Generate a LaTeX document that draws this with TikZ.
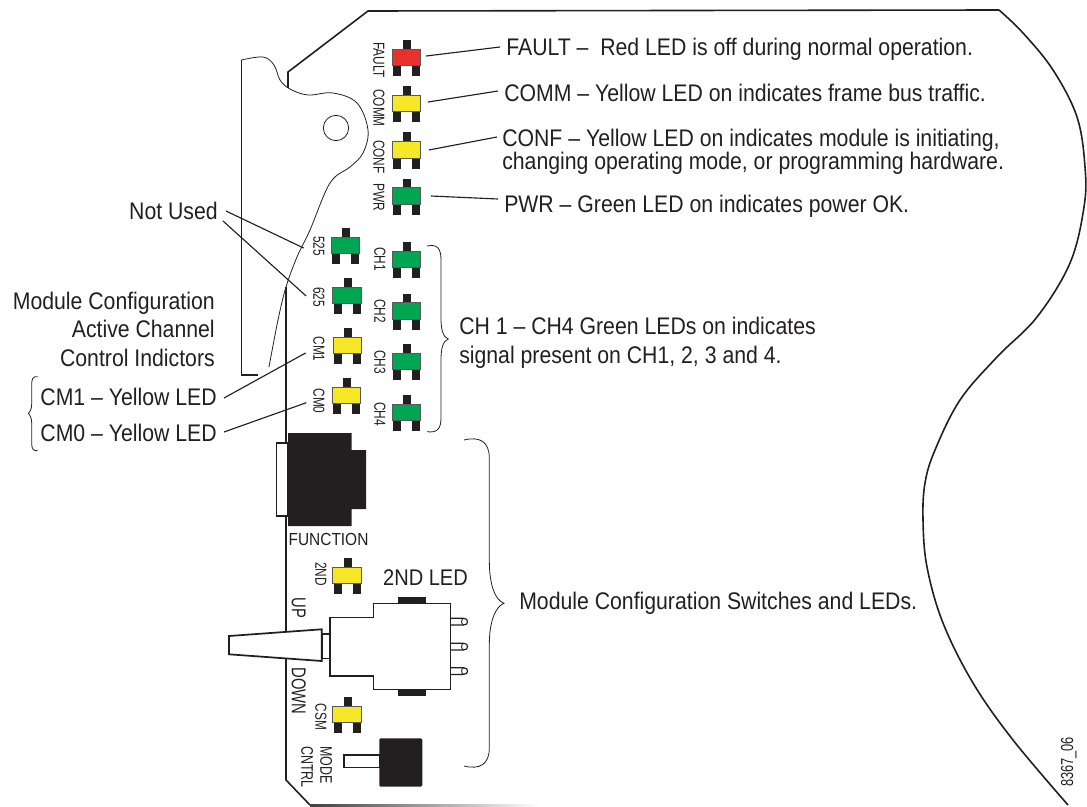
\documentclass[tikz,border=0pt]{standalone}
\usepackage{fontspec}
\setmainfont[FakeStretch=.885]{Liberation Sans}
\newfontfamily\ledfont[FakeStretch=.74]{Liberation Sans}

\definecolor{inkblack}{HTML}{231F20}
\definecolor{ledred}{HTML}{E8312A}
\definecolor{ledyellow}{HTML}{F7E827}
\definecolor{ledgreen}{HTML}{00A651}

\tikzset{
    ledbody/.style={draw=black!65,line width=.8pt,minimum width=21.5pt,minimum height=12.5pt,inner sep=0pt},
    ledlabel/.style={rotate=-90,inner sep=0pt,text=inkblack,text height=8.6pt,text depth=0pt,font=\ledfont\fontsize{12pt}{12pt}\selectfont},
    biglabel/.style={ledlabel,text height=10.7pt,font=\ledfont\fontsize{15pt}{15pt}\selectfont},
    note/.style={inner sep=0pt,text=inkblack,text height=12.9pt,text depth=0pt,font=\fontsize{18pt}{18pt}\selectfont},
    leader/.style={draw=inkblack,line width=.85pt},
    curlybrace/.style={draw=inkblack,line width=.6pt},
    edgeline/.style={draw=inkblack,line width=1.2pt},
    leverline/.style={draw=inkblack,line width=.6pt},
    partline/.style={draw=inkblack,line width=1.1pt,fill=white},
    blackpart/.style={fill=inkblack},
}

\begin{document}
\begin{tikzpicture}[x=.75pt,y=-.75pt]
    \useasboundingbox (0,0) rectangle (1087,806);

    % lever
    \draw[leverline,line width=.8pt] (258,375) -- (241.5,375) -- (241.5,60);
    \draw[leverline] plot[smooth,tension=.6] coordinates {
        (241.5,60) (263,57) (274,65) (280,80) (290,89) (308,95) (333,93) (357,103)
        (368,130) (363,153) (350,167) (330,183) (310,230) (297,257) (286,287) (278,320) (269,367)};
    \node[draw=inkblack,line width=.6pt,circle,minimum size=19pt,inner sep=0pt] (pivot) at (336,128) {};

    % board
    \draw[edgeline] (288,88) -- (288,72) -- (368,11) -- (999,10);
    \draw[edgeline] plot[smooth,tension=.6] coordinates {
        (999,10) (1023,33) (1053,70) (1077,117) (1085,167) (1084,207) (1070,263) (1037,317)
        (997,357) (960,400) (935,450) (925,483) (923,520) (927,567) (943,623) (973,683) (1013,740) (1068,805)};
    \draw[edgeline] (286,287) -- (286,780) -- (310,805);
    \shade[left color=black!75,right color=white] (310,804.5) rectangle (540,806);

    % LEDs
    \foreach \name/\x/\y/\col/\txt/\lx/\ly in {
        fault/406.5/57.5/ledred/FAULT/379/60,
        comm/406.5/103.5/ledyellow/COMM/379/108,
        conf/406.5/150/ledyellow/CONF/379/157,
        pwr/406.5/196/ledgreen/PWR/379/197,
        ledfive/345.5/245.5/ledgreen/525/319/246,
        ledsix/347/295.5/ledgreen/625/319/297,
        cmone/347.5/345.5/ledyellow/CM1/319/349,
        cmzero/346.5/395.5/ledyellow/CM0/319/401,
        chone/406.5/259.5/ledgreen/CH1/380/259,
        chtwo/406.5/311/ledgreen/CH2/380/311,
        chthree/406.5/361.5/ledgreen/CH3/380/362,
        chfour/406.5/412.5/ledgreen/CH4/380/414,
        second/347/575.5/ledyellow/2ND/321/574,
        csm/347/714.5/ledyellow/CSM/321/717%
    } {
        \fill[blackpart] (\x-3.5,\y-17.5) rectangle (\x+4.5,\y-8);
        \fill[blackpart] (\x-13.5,\y+8) rectangle (\x-5.5,\y+18.5);
        \fill[blackpart] (\x+5.5,\y+8) rectangle (\x+13.5,\y+18.5);
        \node[ledbody,fill=\col] (\name) at (\x,\y) {};
        \node[ledlabel] (\name lbl) at (\lx,\ly) {\txt};
    }

    % function connector
    \draw[partline] (276.7,443) rectangle (288,516);
    \fill[blackpart] (288,433) -- (351.7,433) -- (351.7,450) -- (366,450) -- (366,509)
        -- (351.7,509) -- (351.7,526) -- (288,526) -- cycle;
    \node[note,text height=9.4pt,font=\fontsize{13.1pt}{13.1pt}\selectfont] (functext) at (328.5,539) {FUNCTION};

    % toggle switch
    \fill[blackpart] (398.3,596.7) rectangle (426,603);
    \fill[blackpart] (398.3,690) rectangle (426,696);
    \foreach \y in {618.3,643.3,667.7} {
        \draw[partline,line width=.9pt] (450.7,\y) -- (463.5,\y) .. controls (466.5,\y) and (467.5,\y+1.5) .. (467.5,\y+3.35)
            .. controls (467.5,\y+5.2) and (466.5,\y+6.7) .. (463.5,\y+6.7) -- (450.7,\y+6.7);
        \draw[inkblack,line width=.7pt] (463.5,\y) .. controls (461,\y+1) and (461,\y+5.7) .. (463.5,\y+6.7);
    }
    \draw[partline] (322.3,634) rectangle (330,658.7);
    \draw[partline] (373.3,603.3) -- (450.7,603.3) -- (450.7,689.3) -- (373.3,689.3) -- (373.3,676)
        -- (330,676) -- (330,617.7) -- (373.3,617.7) -- cycle;
    \draw[partline,line width=1.3pt] (229,636) -- (321.7,629.3) -- (321.7,661) -- (229,654.3) -- cycle;
    \node[biglabel] (uplbl) at (299,608) {UP};
    \node[biglabel] (downlbl) at (299,691) {DOWN};

    % mode button
    \draw[partline,line width=.9pt] (344,755) rectangle (379.3,767.3);
    \fill[blackpart,rounded corners=1pt] (379.3,738.3) rectangle (422.3,786.7);
    \node[ledlabel,font=\ledfont\fontsize{12.6pt}{12.6pt}\selectfont] (modelbl) at (326,765) {MODE};
    \node[ledlabel,font=\ledfont\fontsize{12.6pt}{12.6pt}\selectfont] (cntrllbl) at (307,767) {CNTRL};

    % braces
    \draw[curlybrace] (427,246) .. controls (437,244) and (441,248) .. (441,260) -- (441,318)
        .. controls (441,330) and (443,337) .. (448.3,339)
        .. controls (443,341) and (441,348) .. (441,360) -- (441,418)
        .. controls (441,429) and (437,433) .. (427,431.7);
    \draw[curlybrace] (464,440) .. controls (480,436) and (489.3,442) .. (489.3,458) -- (489.3,560)
        .. controls (489.3,585) and (495,600) .. (504,603.3)
        .. controls (495,607) and (489.3,622) .. (489.3,645) -- (489.3,748)
        .. controls (489.3,764) and (480,770) .. (464,766);
    \draw[curlybrace] (37.7,376.7) .. controls (33,376) and (31.7,379) .. (31.7,384) -- (31.7,404)
        .. controls (31.7,409) and (30,412) .. (28.3,413.3)
        .. controls (30,415) and (31.7,418) .. (31.7,423) -- (31.7,443)
        .. controls (31.7,449) and (33,451) .. (37.7,450.7);

    % notes
    \node[note,anchor=west] (faulttext) at (506,47) {FAULT --\ \ Red LED is off during normal operation.};
    \node[note,anchor=west] (commtext) at (504,93) {COMM -- Yellow LED on indicates frame bus traffic.};
    \node[note,anchor=west] (conftext) at (502,138) {CONF -- Yellow LED on indicates module is initiating,};
    \node[note,anchor=west] (confmore) at (502,161) {changing operating mode, or programming hardware.};
    \node[note,anchor=west] (pwrtext) at (504,204) {PWR -- Green LED on indicates power OK.};
    \node[note,anchor=east] (notused) at (218,211) {Not Used};
    \node[note,anchor=east] (activeone) at (215,301) {Module Configuration};
    \node[note,anchor=east] (activetwo) at (215,329) {Active Channel};
    \node[note,anchor=east] (activethree) at (215,358) {Control Indictors};
    \node[note,anchor=east] (cmonetext) at (217,397) {CM1 -- Yellow LED};
    \node[note,anchor=east] (cmzerotext) at (217,433) {CM0 -- Yellow LED};
    \node[note,anchor=west] (chtext) at (459,326) {CH 1 -- CH4 Green LEDs on indicates};
    \node[note,anchor=west] (chmore) at (459,355) {signal present on CH1, 2, 3 and 4.};
    \node[note,anchor=west] (switchtext) at (519,601) {Module Configuration Switches and LEDs.};
    \node[note,text height=12.2pt,font=\fontsize{17pt}{17pt}\selectfont] (secondtext) at (425.5,577) {2ND LED};
    \node[ledlabel,rotate=180,text height=9.3pt,font=\ledfont\fontsize{13pt}{13pt}\selectfont] (figtext) at (1067,762) {8367\_06};

    % leaders
    \draw[leader] ([shift={(3.4pt,1.1pt)}]fault.east) -- ([xshift=-4.5pt]faulttext.west);
    \draw[leader] ([shift={(4.9pt,1.1pt)}]comm.east) -- ([shift={(-4.5pt,1.5pt)}]commtext.west);
    \draw[leader] ([xshift=5.6pt]conf.east) -- ([shift={(-3.75pt,.75pt)}]conftext.west);
    \draw[leader] ([xshift=7.1pt]pwr.east) -- ([shift={(-4.5pt,3.75pt)}]pwrtext.west);
    \draw[leader] ([xshift=6pt]notused.east) -- ([shift={(-20.25pt,-1.9pt)}]ledfive.west);
    \draw[leader] ([shift={(3.75pt,-7.5pt)}]notused.east) -- ([shift={(-19.5pt,-.4pt)}]ledsix.west);
    \draw[leader] ([shift={(5.25pt,-.75pt)}]cmonetext.east) -- ([shift={(-20.25pt,-5.6pt)}]cmone.west);
    \draw[leader] ([shift={(5.25pt,.75pt)}]cmzerotext.east) -- ([shift={(-19pt,-5.4pt)}]cmzero.west);
\end{tikzpicture}
\end{document}
